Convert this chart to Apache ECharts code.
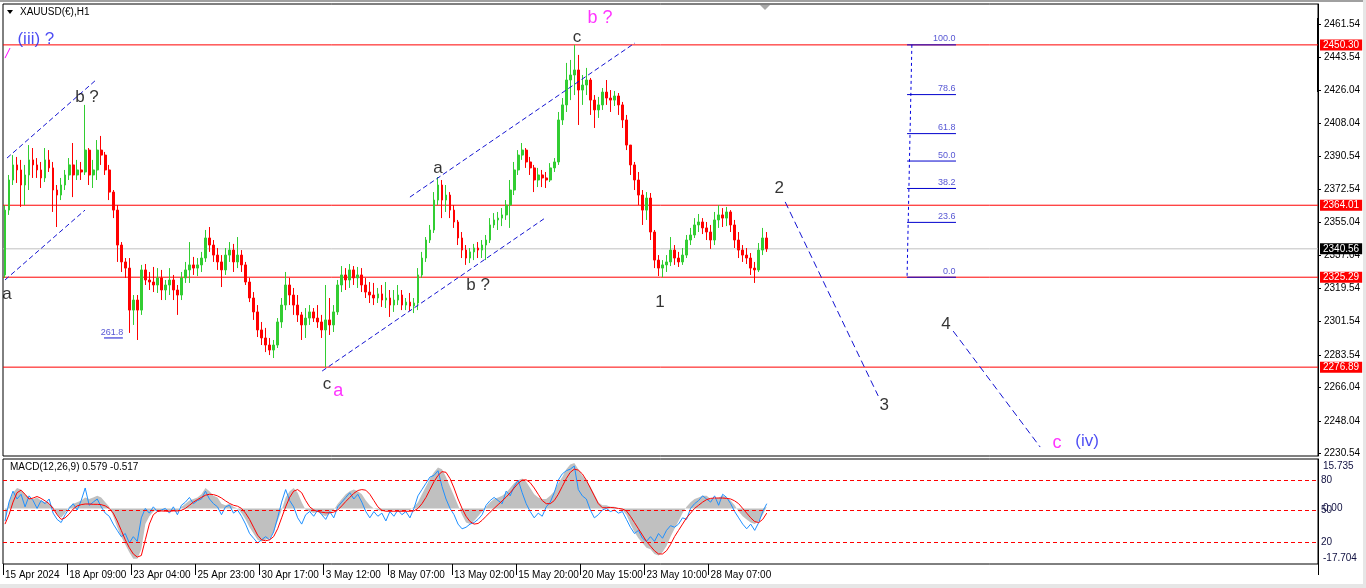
<!DOCTYPE html>
<html><head><meta charset="utf-8">
<script src="https://cdn.jsdelivr.net/npm/echarts@6/dist/echarts.min.js"></script>
<style>html,body{margin:0;padding:0;background:#fff;}#c{width:1366px;height:588px;}</style>
</head><body><div id="c"></div>
<script>
// ---------- DATA ----------
const xLabels = ['15 Apr 2024','18 Apr 09:00','23 Apr 04:00','25 Apr 23:00','30 Apr 17:00','3 May 12:00','8 May 07:00','13 May 02:00','15 May 20:00','20 May 15:00','23 May 10:00','28 May 07:00'];
const priceTicks = [2461.54,2443.54,2426.04,2408.04,2390.54,2372.54,2355.04,2337.04,2319.54,2301.54,2283.54,2266.04,2248.04,2230.54];
const opens = [2326.5,2361.4,2377.6,2385.7,2383.0,2374.9,2380.3,2388.4,2385.7,2383.0,
2378.7,2388.4,2384.1,2372.2,2369.5,2374.9,2380.3,2385.7,2380.3,2383.0,
2381.9,2393.7,2380.3,2383.0,2393.7,2391.0,2383.0,2371.1,2361.4,2342.6,
2333.5,2330.2,2307.6,2313.0,2307.6,2329.2,2323.8,2322.7,2321.1,2324.9,
2318.4,2321.1,2323.8,2318.4,2315.7,2324.9,2329.2,2331.9,2330.2,2331.9,
2335.6,2346.4,2342.6,2337.2,2333.5,2329.2,2337.2,2339.9,2333.5,2337.2,
2331.9,2322.7,2314.1,2306.6,2296.9,2292.6,2288.8,2286.1,2288.8,2301.2,
2310.3,2321.1,2315.7,2310.3,2305.0,2299.6,2303.3,2306.6,2303.3,2301.2,
2296.9,2302.3,2299.6,2306.6,2321.1,2326.5,2323.8,2329.2,2324.9,2326.5,
2321.1,2317.3,2315.7,2314.1,2316.3,2313.0,2314.1,2310.3,2313.0,2315.7,
2310.3,2311.9,2309.8,2311.4,2326.5,2335.6,2345.3,2350.7,2366.8,2374.9,
2366.8,2369.5,2361.4,2355.0,2346.4,2339.9,2335.6,2338.9,2341.0,2339.9,
2342.6,2345.3,2353.4,2356.1,2357.1,2358.8,2364.1,2372.2,2383.0,2391.0,
2393.7,2387.3,2384.1,2377.6,2380.3,2378.7,2377.6,2384.1,2387.3,2409.9,
2418.0,2431.4,2434.1,2436.8,2426.0,2428.7,2431.4,2420.6,2415.3,2418.0,
2424.9,2421.7,2420.6,2422.8,2418.0,2409.9,2396.4,2385.7,2377.6,2369.5,
2361.4,2367.9,2349.6,2334.5,2330.2,2331.9,2333.5,2339.9,2335.6,2333.5,
2337.2,2345.3,2348.0,2353.4,2355.0,2351.8,2349.6,2345.3,2356.1,2358.8,
2357.1,2360.4,2353.4,2345.3,2339.9,2337.2,2335.6,2330.2,2329.2,2339.9,
2346.4];
const closes = [2361.4,2377.6,2385.7,2383.0,2374.9,2380.3,2388.4,2385.7,2383.0,2378.7,
2388.4,2384.1,2372.2,2369.5,2374.9,2380.3,2385.7,2380.3,2383.0,2381.9,
2393.7,2380.3,2383.0,2393.7,2391.0,2383.0,2371.1,2361.4,2342.6,2333.5,
2330.2,2307.6,2313.0,2307.6,2329.2,2323.8,2322.7,2321.1,2324.9,2318.4,
2321.1,2323.8,2318.4,2315.7,2324.9,2329.2,2331.9,2330.2,2331.9,2335.6,
2346.4,2342.6,2337.2,2333.5,2329.2,2337.2,2339.9,2333.5,2337.2,2331.9,
2322.7,2314.1,2306.6,2296.9,2292.6,2288.8,2286.1,2288.8,2301.2,2310.3,
2321.1,2315.7,2310.3,2305.0,2299.6,2303.3,2306.6,2303.3,2301.2,2296.9,
2302.3,2299.6,2306.6,2321.1,2326.5,2323.8,2329.2,2324.9,2326.5,2321.1,
2317.3,2315.7,2314.1,2316.3,2313.0,2314.1,2310.3,2313.0,2315.7,2310.3,
2311.9,2309.8,2311.4,2326.5,2335.6,2345.3,2350.7,2366.8,2374.9,2366.8,
2369.5,2361.4,2355.0,2346.4,2339.9,2335.6,2338.9,2341.0,2339.9,2342.6,
2345.3,2353.4,2356.1,2357.1,2358.8,2364.1,2372.2,2383.0,2391.0,2393.7,
2387.3,2384.1,2377.6,2380.3,2378.7,2377.6,2384.1,2387.3,2409.9,2418.0,
2431.4,2434.1,2436.8,2426.0,2428.7,2431.4,2420.6,2415.3,2418.0,2424.9,
2421.7,2420.6,2422.8,2418.0,2409.9,2396.4,2385.7,2377.6,2369.5,2361.4,
2367.9,2349.6,2334.5,2330.2,2331.9,2333.5,2339.9,2335.6,2333.5,2337.2,
2345.3,2348.0,2353.4,2355.0,2351.8,2349.6,2345.3,2356.1,2358.8,2357.1,
2360.4,2353.4,2345.3,2339.9,2337.2,2335.6,2330.2,2329.2,2339.9,2346.4,
2340.56];
const lows = [2324.9,2358.8,2374.9,2376.0,2363.1,2364.1,2372.2,2378.7,2378.7,2373.3,
2376.5,2381.9,2360.4,2352.3,2366.8,2372.2,2377.6,2368.4,2377.6,2377.6,
2380.3,2374.9,2373.3,2377.6,2385.7,2380.3,2366.8,2357.1,2333.5,2328.1,
2324.9,2295.3,2299.6,2291.5,2305.0,2321.1,2318.4,2317.3,2316.8,2313.0,
2313.0,2315.7,2313.0,2305.0,2313.0,2322.2,2322.2,2326.5,2325.9,2328.1,
2333.5,2338.9,2333.5,2329.2,2320.0,2326.5,2333.5,2328.1,2330.2,2328.1,
2321.1,2311.9,2302.3,2293.1,2288.8,2285.0,2283.4,2281.8,2287.2,2298.0,
2307.6,2310.3,2305.0,2301.2,2291.5,2292.6,2299.6,2301.2,2298.0,2292.6,
2276.9,2294.2,2295.8,2305.0,2317.3,2318.4,2319.5,2321.1,2319.5,2317.3,
2314.1,2311.4,2310.3,2311.4,2309.3,2308.7,2303.9,2306.6,2310.3,2307.6,
2307.6,2307.1,2306.0,2307.6,2324.9,2333.5,2343.7,2349.1,2364.1,2357.1,
2360.4,2357.1,2351.8,2342.6,2335.6,2331.9,2332.9,2334.5,2335.6,2335.6,
2334.5,2343.7,2351.8,2350.7,2352.8,2356.1,2351.8,2369.5,2380.3,2388.4,
2384.1,2380.3,2371.1,2373.8,2373.8,2373.3,2376.5,2381.9,2385.7,2407.2,
2414.2,2420.6,2423.3,2407.2,2418.0,2423.3,2412.6,2405.6,2411.0,2415.3,
2418.0,2414.2,2417.4,2412.6,2405.6,2393.7,2380.3,2372.2,2364.1,2353.4,
2356.1,2345.3,2330.2,2325.9,2325.29,2328.1,2331.3,2331.9,2330.8,2331.9,
2335.6,2342.6,2346.4,2349.6,2348.5,2345.3,2340.5,2342.6,2351.8,2352.3,
2352.8,2349.6,2341.0,2335.6,2333.5,2332.4,2326.5,2322.2,2328.1,2337.2,
2338.9];
const highs = [2364.1,2380.3,2391.0,2390.0,2388.4,2385.7,2396.4,2394.8,2389.4,2387.3,
2394.8,2393.7,2387.3,2374.9,2378.7,2383.0,2389.4,2397.5,2388.4,2387.3,
2418.0,2394.8,2388.4,2399.1,2401.3,2392.7,2385.7,2372.2,2364.1,2344.2,
2335.6,2335.6,2315.7,2315.7,2331.9,2332.4,2328.1,2330.8,2330.2,2329.2,
2323.8,2330.2,2326.5,2321.1,2328.1,2333.5,2344.2,2336.2,2335.6,2338.9,
2350.7,2352.3,2345.3,2341.0,2337.2,2341.0,2344.2,2343.2,2346.9,2339.9,
2333.5,2324.9,2317.3,2310.3,2301.2,2298.0,2292.6,2291.5,2303.3,2314.1,
2328.1,2324.9,2319.5,2315.7,2306.6,2308.7,2310.3,2308.7,2310.3,2305.0,
2321.1,2314.1,2310.3,2323.8,2331.3,2330.2,2332.4,2331.3,2330.8,2330.2,
2324.9,2322.7,2322.2,2319.5,2321.1,2322.7,2318.4,2318.4,2321.1,2318.4,
2314.1,2316.8,2314.1,2330.2,2338.9,2346.9,2353.4,2371.1,2379.2,2377.6,
2374.9,2371.1,2364.1,2356.1,2349.6,2342.6,2341.0,2343.2,2344.2,2345.3,
2348.0,2357.1,2359.8,2360.4,2362.5,2366.8,2377.6,2387.3,2393.7,2397.5,
2394.8,2390.0,2385.7,2384.1,2383.0,2381.9,2386.7,2389.4,2414.2,2421.7,
2440.6,2442.2,2450.3,2444.9,2434.1,2437.9,2432.5,2423.3,2422.3,2427.1,
2431.4,2426.0,2425.5,2424.4,2419.6,2412.6,2396.4,2387.3,2381.9,2372.2,
2371.1,2370.6,2350.7,2337.2,2334.5,2337.2,2346.9,2342.6,2338.9,2341.0,
2348.0,2351.8,2357.1,2359.3,2357.1,2355.0,2353.4,2360.4,2364.1,2362.5,
2363.1,2361.4,2356.1,2349.6,2342.6,2341.0,2338.3,2333.5,2343.7,2351.8,
2349.6];
const macdHist = [-4,2,5,6.5,6,4.5,3.5,3,3.5,2.5,
2,1.5,0.5,-2,-3,-1.5,0.5,1.5,2,2.5,
3.5,3,3.5,4,3.5,2,0.5,-2.5,-6,-9,
-11.5,-14,-16,-16,-13,-5,-2.5,-1,-0.5,-1,
-0.5,-1,-0.5,-1,0.5,1.5,2.5,3,3.5,4.5,
6.5,5.5,4,3.5,1.5,1,1.5,0.5,0,-1.5,
-3.5,-6,-8,-10,-10.5,-10,-9.5,-7.5,-4,-0.5,
3.5,5.5,6.5,5,2,-0.5,-1,-1.5,-1,-2,
-2.5,-1.5,-0.5,1.5,3,4.5,5.5,6,5.5,4.5,
2.5,1,0,-0.5,-1,-0.5,-1,-0.5,-0.5,-1,
-0.5,-0.5,0.5,2,4.5,7,9.5,11.5,13,12.5,
10,7,4,1,-2,-4.5,-5,-4,-2.5,-1,
0.5,2,3,3.5,4,5,6.5,8,9,9.5,
8.5,6.5,4.5,3.5,3,3,4,5.5,8,10,
12.5,14,14.5,12.5,10.5,9,7,4.5,2,1,
1,0.5,0.5,0,-0.5,-2,-5,-7.5,-9.5,-11,
-12.5,-13,-14.5,-15,-14,-12,-9,-6.5,-4,-1.5,
0.5,2,3,3.5,4,4,3,3,3.5,4,
3.5,2.5,1,-1,-2.5,-3.5,-4.5,-5,-4,-2,
0.5];
const macdBlue = [-4,2,5.5,3,4.5,0.5,4,2.5,0,2.5,
1.5,3,-1.5,-3.5,-4.5,-2,0,1.5,-0.5,2.5,
6.5,1,2,3,0.5,-1.5,-2.5,-5,-7,-9,
-8,-11,-9,-10.5,-3,0,-1.5,0.5,-1,-0.5,
0,-1.5,0.5,-2,1,2,3.5,1.5,2.5,3,
5.5,3,1.5,0.5,-2,0.5,1,-1.5,-0.5,-2.5,
-5,-8,-9.5,-11,-10,-9,-10,-7.5,-3,2,
6,2.5,0.5,-3,-5,-2,-1,-2.5,-0.5,-2,
-3.5,-1,-3,0.5,2,3.5,5,3,4.5,2,
-1,-3,-1,-2.5,-1.5,-4,-1,-2.5,-0.5,-2,
-1,-3,0,4,6,8,10,10.5,12,7,
3,0,-2,-5,-6.5,-6,-5,-4.5,-3.5,-2,
1,2.5,3.5,2.5,1.5,5.5,4,7,9,5,
1.5,-1,-3,-1.5,-2.5,0.5,2,5,9,11,
12,12.5,13.5,6,4,3,-0.5,-3,-2,-0.5,
0,-1,-0.5,-1.5,-1,-3.5,-6,-8,-7,-9.5,
-10.5,-9,-10.5,-8,-9.5,-7,-5.5,-6,-5,-3,
-3.5,0,1.5,2.5,4,3,2,4,1,4.5,
3.5,1.5,-1,-3,-5,-6.5,-5,-7,-4.5,-1,
1.5];
const macdSignal = [-5,-2,2,5,5.8,4.5,3,3.3,3.8,3.2,
2.4,1.5,0,-2,-3.5,-3,-1.8,-0.2,0.8,1.2,
1.4,1.4,1.3,1.3,1.2,0.8,0,-1.5,-4,-7,
-10,-12.5,-14.5,-15.5,-15,-10,-5,-2,-1,-0.8,
-0.9,-0.9,-0.8,-0.8,-0.6,0,1,2,2.8,3.5,
4.2,4.5,4.4,4,3.3,2.4,1.6,1,0.7,0,
-1.5,-3.5,-6,-8.5,-10,-10.3,-10,-9,-6.5,-3,
0.5,3.5,5.5,6,5,2.5,0.5,-0.5,-1,-1.2,
-1.4,-1.4,-1.2,-0.5,0.8,2.2,3.5,4.8,5.7,6,
5.8,4.5,2.5,0.5,-0.6,-0.9,-0.9,-0.9,-0.9,-0.9,
-0.9,-0.9,-0.8,0,1.5,3.5,6,8.5,10.5,11.7,
11.5,9.5,6.5,3,0,-2.5,-4.2,-5,-4.8,-3.8,
-2.5,-1.2,0,1.2,2.4,3.6,5,6.5,8,9,
9.1,8.2,6.5,4.5,2.5,1.5,1.5,2.5,4.5,7,
9.5,11.5,12.5,12.2,11,9,6.5,4,1.5,0.2,
0.2,0.3,0.2,0,-0.2,-0.8,-2.5,-4.5,-6.5,-8.5,
-10.5,-12,-13.5,-14.5,-14.5,-13.5,-11.5,-9,-7,-5,
-3,-1.5,0,1,2,2.8,3.2,3.3,3.3,3.3,
3.2,3,2.4,1.5,0,-1.5,-3,-4.2,-4.5,-3.5,
-1.5];
const redLevels = [2450.30, 2364.01, 2325.29, 2276.89];
const bidPrice = 2340.56;
const fibLabels = ['0.0','23.6','38.2','50.0','61.8','78.6','100.0'];
const fibPrices = [2325.29, 2354.79, 2373.04, 2387.80, 2402.55, 2423.55, 2450.30];
const fibSpan = [225.0, 237.2];            // bar positions of fib level lines
const fibStem = [[226.2, 2450.30], [225.0, 2325.29]];
const channelSegs = [
  [[0.5, 2389.4], [22.95, 2431.9]],
  [[0.0, 2323.8], [19.95, 2361.4]],
  [[79.1, 2274.8], [134.7, 2357.1]],
  [[101.0, 2368.4], [157.1, 2451.3]]
];
const projectionSegs = [
  [[194.6, 2365.8], [217.8, 2261.4]],
  [[236.5, 2296.3], [258.2, 2233.9]]
];
const extUnderline = [[24.7, 2292.6], [29.4, 2292.6]];
const magentaSlash = [[0.0, 2443.2], [1.25, 2448.6]];
const annText  = ['(iii) ?','b ?','a','261.8','c','a','a','b ?','c','b ?','1','2','3','4','c','(iv)'];
const annBar   = [7.7, 20.45, 0.5, 26.7, 80.3, 83.1, 108.0, 118.0, 142.7, 148.4, 163.4, 193.1, 219.3, 234.7, 262.4, 269.9];
const annPrice = [2453.5, 2422.3, 2316.3, 2295.3, 2267.8, 2264.0, 2384.0, 2321.1, 2454.5, 2464.8, 2312.0, 2373.3, 2256.5, 2300.1, 2236.1, 2237.1];
const annKind  = ['blue','wave','wave','fib','wave','magenta','wave','wave','wave','magenta','wave','wave','wave','wave','magenta','blue'];
const macdLevelLabels = ['80','50','20'];
const macdLevelValues = [8.9, -0.7, -10.8];

// ---------- BUILD ----------
const NCAT = 328;
const cats = Array.from({length: NCAT}, (_, i) => 'k' + i);
const FONT = 'Liberation Sans';
const kindStyle = {
  wave:    {color: '#000000', fontSize: 17},
  magenta: {color: '#FF00FF', fontSize: 18},
  blue:    {color: '#1E1EF0', fontSize: 17},
  fib:     {color: '#2B2BC8', fontSize: 9}
};
const candleData = opens.map((o, i) => [o, closes[i], lows[i], highs[i]]);
const BLUE = '#1414D2';
const XMIN = -0.5, XMAX = NCAT - 0.5;

function segSeries(seg, color, dash, z) {
  return {type: 'line', xAxisIndex: 1, yAxisIndex: 0, data: seg, symbol: 'none', silent: true,
    lineStyle: {color: color, width: 1, type: dash, opacity: 1}, itemStyle: {color: color},
    emphasis: {disabled: true}, z: z || 4};
}
function tagSeries(values, tagColor) {
  return {type: 'line', xAxisIndex: 1, yAxisIndex: 0, data: [], symbol: 'none', silent: true, z: 5,
    markLine: {silent: true, symbol: ['none', 'none'], animation: false,
      lineStyle: {color: 'rgba(0,0,0,0)', width: 0},
      label: {show: true, position: 'end', distance: 2, padding: [1, 3, 0, 3], fontSize: 10, fontFamily: FONT,
        backgroundColor: tagColor, color: '#FFFFFF', formatter: p => Number(p.value).toFixed(2)},
      data: values.map(v => ({yAxis: v}))}};
}

const series = [];
redLevels.forEach(v => series.push(segSeries([[XMIN, v], [XMAX, v]], '#FF0000', 'solid', 1)));
series.push(segSeries([[XMIN, bidPrice], [XMAX, bidPrice]], '#C0C0C0', 'solid', 1));
series.push(tagSeries(redLevels, '#FF0000'));
series.push(tagSeries([bidPrice], '#000000'));
series.push({
  type: 'candlestick', xAxisIndex: 0, yAxisIndex: 0, data: candleData, barWidth: '55%', barMaxWidth: 3, z: 2,
  itemStyle: {color: '#32CD32', color0: '#FF0000', borderColor: '#32CD32', borderColor0: '#FF0000', borderWidth: 1}
});
channelSegs.forEach(s => series.push(segSeries(s, BLUE, [5, 3])));
projectionSegs.forEach(s => series.push(segSeries(s, BLUE, [7, 4])));
series.push(segSeries(extUnderline, BLUE, 'solid'));
series.push(segSeries(magentaSlash, '#FF00FF', 'solid'));
series.push(segSeries(fibStem, '#0000E0', [3, 3]));
fibPrices.forEach(v => series.push(segSeries([[fibSpan[0], v], [fibSpan[1], v]], '#0000CD', 'solid')));
series.push({
  type: 'scatter', xAxisIndex: 1, yAxisIndex: 0, symbolSize: 1, silent: true, z: 6,
  itemStyle: {color: 'transparent'},
  data: annText.map((t, i) => ({
    value: [annBar[i], annPrice[i]],
    label: {show: true, position: 'inside', formatter: t, fontFamily: FONT,
      color: kindStyle[annKind[i]].color, fontSize: kindStyle[annKind[i]].fontSize}
  })).concat(fibLabels.map((t, i) => ({
    value: [fibSpan[1], fibPrices[i]],
    label: {show: true, position: [0, -1], formatter: t, fontFamily: FONT, align: 'right', verticalAlign: 'bottom',
      color: kindStyle.fib.color, fontSize: kindStyle.fib.fontSize}
  })))
});
// MACD panel
series.push({
  type: 'line', xAxisIndex: 2, yAxisIndex: 1, data: macdHist, symbol: 'none', silent: true, z: 2,
  lineStyle: {width: 0, color: '#C0C0C0'}, itemStyle: {color: '#C0C0C0'},
  areaStyle: {color: '#C0C0C0', opacity: 1, origin: 0},
  markLine: {
    silent: true, symbol: ['none', 'none'], animation: false,
    lineStyle: {color: '#FF0000', width: 1, type: [4, 3]},
    label: {show: true, position: 'end', distance: 3, color: '#101040', fontSize: 10, fontFamily: FONT,
      formatter: p => p.name},
    data: macdLevelValues.map((v, i) => ({yAxis: v, name: macdLevelLabels[i]}))
  }
});
series.push({type: 'line', xAxisIndex: 2, yAxisIndex: 1, data: macdBlue, symbol: 'none', silent: true,
  lineStyle: {color: '#1E90FF', width: 1}, itemStyle: {color: '#1E90FF'}, z: 3});
series.push({type: 'line', xAxisIndex: 2, yAxisIndex: 1, data: macdSignal, symbol: 'none', silent: true,
  lineStyle: {color: '#FF0000', width: 1}, itemStyle: {color: '#FF0000'}, z: 4});

const labelEvery = 16;
const showIdx = (idx) => idx % labelEvery === 0 && idx / labelEvery < xLabels.length;
const option = {
  animation: false,
  backgroundColor: '#FFFFFF',
  textStyle: {fontFamily: FONT},
  grid: [
    {left: 3, right: 48, top: 4, bottom: 132, show: true, borderColor: '#000', borderWidth: 1, backgroundColor: 'transparent'},
    {left: 3, right: 48, top: 459, bottom: 24, show: true, borderColor: '#000', borderWidth: 1, backgroundColor: 'transparent'}
  ],
  xAxis: [
    {type: 'category', gridIndex: 0, data: cats, boundaryGap: true, axisLine: {show: false, onZero: false},
      axisTick: {show: false}, axisLabel: {show: false}, splitLine: {show: false}},
    {type: 'value', gridIndex: 0, min: XMIN, max: XMAX, show: false, axisLine: {onZero: false}, splitLine: {show: false}},
    {type: 'category', gridIndex: 1, data: cats, boundaryGap: true, position: 'bottom', axisLine: {show: false, onZero: false},
      axisTick: {show: true, length: 11, lineStyle: {color: '#000'}, interval: showIdx},
      axisLabel: {show: true, align: 'left', margin: 6, fontSize: 10, color: '#000', fontFamily: FONT,
        interval: showIdx,
        formatter: (v, idx) => showIdx(idx) ? xLabels[idx / labelEvery] : ''},
      splitLine: {show: false}}
  ],
  yAxis: [
    {type: 'value', gridIndex: 0, position: 'right', min: 2229.08, max: 2472.3, splitLine: {show: false},
      axisLine: {show: true, onZero: false, lineStyle: {color: '#000'}},
      axisTick: {show: true, customValues: priceTicks, length: 3, lineStyle: {color: '#000'}},
      axisLabel: {customValues: priceTicks, formatter: v => v.toFixed(2), color: '#000', fontSize: 10, margin: 6, fontFamily: FONT}},
    {type: 'value', gridIndex: 1, position: 'right', min: -17.704, max: 15.735, splitLine: {show: false},
      axisLine: {show: true, onZero: false, lineStyle: {color: '#000'}},
      axisTick: {show: false},
      axisLabel: {customValues: [15.735, 0, -17.704], color: '#101040', fontSize: 10, margin: 5, fontFamily: FONT,
        formatter: v => v > 10 ? '{t|15.735}' : (v < -10 ? '{b|-17.704}' : '0.00'),
        rich: {t: {padding: [14, 0, 0, 0], fontSize: 10, color: '#101040', fontFamily: FONT},
               b: {padding: [0, 0, 12, 0], fontSize: 10, color: '#101040', fontFamily: FONT}}}}
  ],
  graphic: [
    {type: 'rect', shape: {x: 0, y: 0, width: 1366, height: 2}, style: {fill: '#A0A0A0'}, silent: true},
    {type: 'rect', shape: {x: 1363, y: 0, width: 3, height: 588}, style: {fill: '#E6E6E6'}, silent: true},
    {type: 'rect', shape: {x: 0, y: 584, width: 1366, height: 4}, style: {fill: '#E6E6E6'}, silent: true},
    {type: 'rect', shape: {x: 1317, y: 18, width: 2, height: 74}, style: {fill: '#000'}, silent: true},
    {type: 'polygon', shape: {points: [[7, 10], [13, 10], [10, 14]]}, style: {fill: '#000'}, silent: true},
    {type: 'polygon', shape: {points: [[760, 5], [770, 5], [765, 10]]}, style: {fill: '#A8A8A8'}, silent: true},
    {type: 'text', left: 20, top: 7, style: {text: 'XAUUSD(€),H1', font: '10px "Liberation Sans"', fill: '#000'}, silent: true},
    {type: 'text', left: 10, top: 462, style: {text: 'MACD(12,26,9) 0.579 -0.517', font: '10px "Liberation Sans"', fill: '#000'}, silent: true}
  ],
  series: series
};
const chart = echarts.init(document.getElementById('c'), null, {renderer: 'canvas'});
chart.setOption(option);
</script>
</body></html>
